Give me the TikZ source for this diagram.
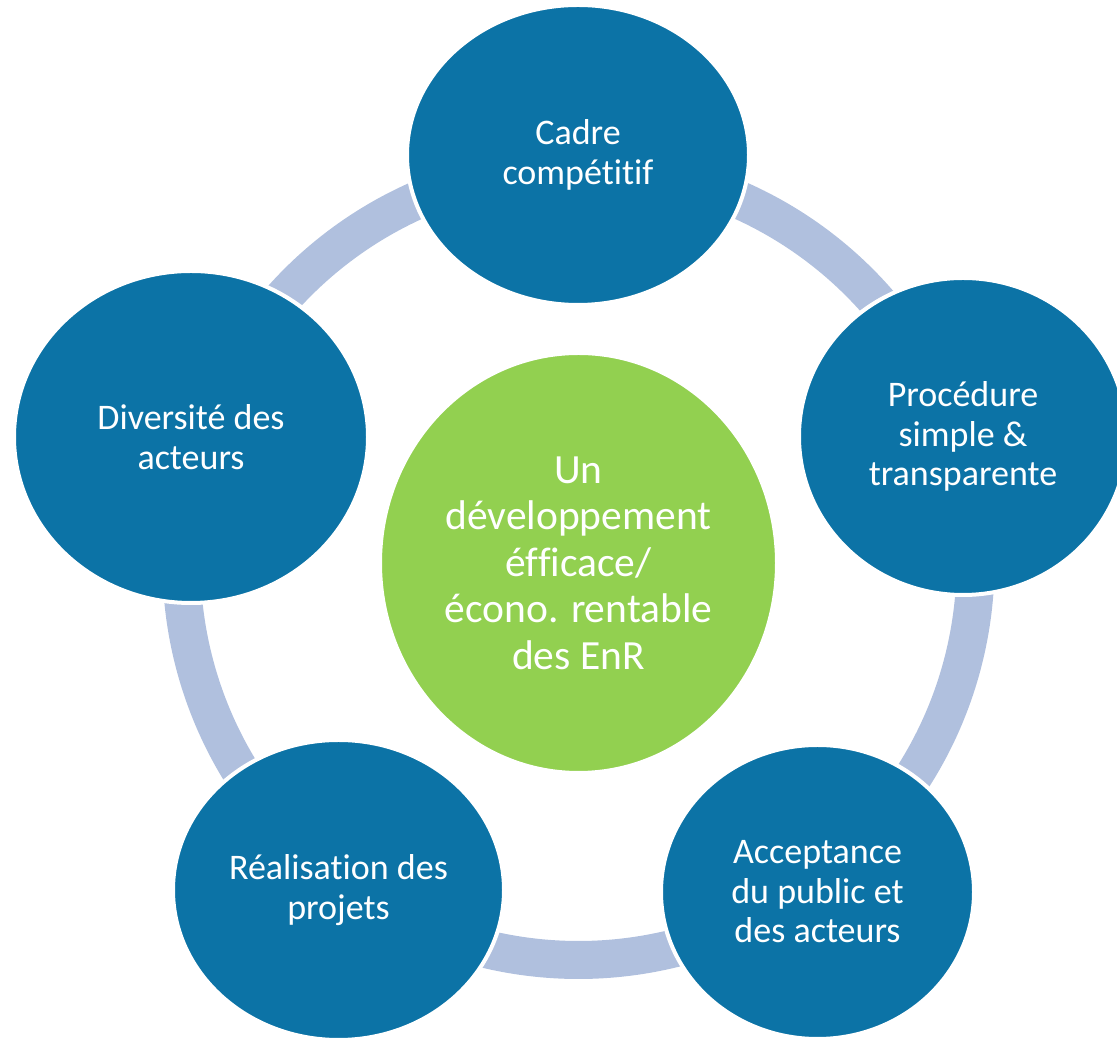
\documentclass[tikz,border=0pt]{standalone}
\usepackage{fontspec}
\setmainfont[Ligatures=NoCommon]{Carlito}
\usetikzlibrary{shapes.geometric}
\definecolor{nodeblue}{RGB}{12,115,166}
\definecolor{hubgreen}{RGB}{146,208,80}
\definecolor{ringblue}{RGB}{176,192,222}
\begin{document}
\begin{tikzpicture}[x=1pt,y=1pt,
  blob/.style={ellipse, fill=nodeblue, draw=white, line width=4pt, text=white,
    align=center, inner sep=0pt, font=\fontsize{36}{39.5}\selectfont},
  hubnode/.style={ellipse, fill=hubgreen, draw=white, line width=4pt, text=white,
    align=center, inner sep=0pt, font=\fontsize{41.5}{46.5}\selectfont},
  ringarc/.style={draw=ringblue, line width=38pt}]
\useasboundingbox (0,0) rectangle (1117,1041);
\clip (0,0) rectangle (1117,1041);
\coordinate (hub) at (578.5,478);
\foreach \a/\n in {90/p1,18/p2,-54/p3,-126/p4,162/p5}
  \coordinate (\n) at ([shift={(\a:397pt)}]hub);
\draw[ringarc] (p1) arc[start angle=90, end angle=18, radius=397pt];
\draw[ringarc] (p2) arc[start angle=18, end angle=-54, radius=397pt];
\draw[ringarc] (p3) arc[start angle=-54, end angle=-126, radius=397pt];
\draw[ringarc] (p4) arc[start angle=-126, end angle=-198, radius=397pt];
\draw[ringarc] (p5) arc[start angle=162, end angle=90, radius=397pt];
\node[hubnode, minimum width=397pt, minimum height=420pt] (center) at (hub)
  {Un\\développement\\éfficace/\\écono. rentable\\des EnR};
\node[blob, minimum width=342pt, minimum height=300pt] (top) at (578,886) {Cadre\\compétitif};
\node[blob, minimum width=328pt, minimum height=317pt] (right) at (963,604.5) {Procédure\\simple \&\\transparente};
\node[blob, minimum width=313pt, minimum height=294pt] (bright) at (817.5,149) {Acceptance\\du public et\\des acteurs};
\node[blob, minimum width=331pt, minimum height=300pt] (bleft) at (338.5,151) {Réalisation des\\projets};
\node[blob, minimum width=354pt, minimum height=332pt] (left) at (191,604) {Diversité des\\acteurs};
\end{tikzpicture}
\end{document}
